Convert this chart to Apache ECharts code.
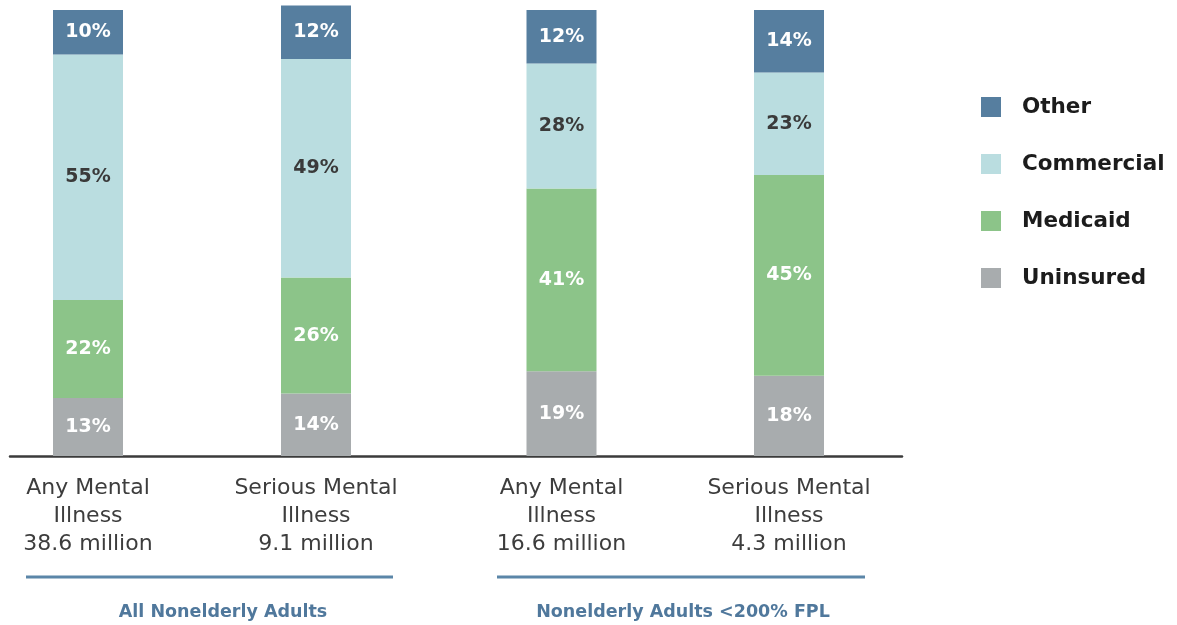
<!DOCTYPE html>
<html>
<head>
<meta charset="utf-8">
<script src="https://cdn.jsdelivr.net/npm/echarts@6/dist/echarts.min.js"></script>
<style>
  html, body { margin: 0; padding: 0; background: #ffffff; }
  #chart { width: 1177px; height: 625px; }
</style>
</head>
<body>
<div id="chart"></div>
<script>
// Coverage mix (%) for nonelderly adults with mental illness
const groupAllCategories = ['Any Mental\nIllness\n38.6 million', 'Serious Mental\nIllness\n9.1 million'];
const groupLowCategories = ['Any Mental\nIllness\n16.6 million', 'Serious Mental\nIllness\n4.3 million'];

const uninsuredAll = [13, 14];
const medicaidAll = [22, 26];
const commercialAll = [55, 49];
const otherAll = [10, 12];

const uninsuredLow = [19, 18];
const medicaidLow = [41, 45];
const commercialLow = [28, 23];
const otherLow = [12, 14];

const groupLabels = ['All Nonelderly Adults', 'Nonelderly Adults <200% FPL'];
const legendNames = ['Other', 'Commercial', 'Medicaid', 'Uninsured'];

const COLORS = {
  Other: '#567e9f',
  Commercial: '#badde0',
  Medicaid: '#8cc489',
  Uninsured: '#a8acae'
};
const LABEL_COLORS = {
  Other: '#ffffff',
  Commercial: '#3a3a3a',
  Medicaid: '#ffffff',
  Uninsured: '#ffffff'
};
const FONT = 'DejaVu Sans';

const chart = echarts.init(document.getElementById('chart'), null, { renderer: 'canvas' });

function seg(name, data, gridIdx) {
  return {
    name: name,
    type: 'bar',
    stack: 'g' + gridIdx,
    xAxisIndex: gridIdx,
    yAxisIndex: gridIdx,
    barWidth: 70,
    data: data,
    itemStyle: { color: COLORS[name] },
    label: {
      show: true,
      position: 'inside',
      formatter: '{c}%',
      color: LABEL_COLORS[name],
      fontFamily: FONT,
      fontWeight: 'bold',
      fontSize: 19
    },
    emphasis: { disabled: true },
    animation: false
  };
}

const gridTop = 5.5;
const gridBottom = 169;

const catAxis = (idx, cats) => ({
  type: 'category',
  gridIndex: idx,
  data: cats,
  axisLine: { show: false },
  axisTick: { show: false },
  axisLabel: {
    color: '#3d3d3d',
    fontFamily: FONT,
    fontSize: 22,
    lineHeight: 28,
    margin: 18,
    interval: 0
  }
});
const valAxis = (idx) => ({
  type: 'value',
  gridIndex: idx,
  min: 0,
  max: 101,
  show: false
});

const option = {
  backgroundColor: '#ffffff',
  animation: false,
  grid: [
    { left: -26, width: 456, top: gridTop, bottom: gridBottom, outerBoundsMode: 'none', containLabel: false },
    { left: 447.75, width: 455, top: gridTop, bottom: gridBottom, outerBoundsMode: 'none', containLabel: false },
    // baseline spanning both groups
    { left: 10, width: 892, top: gridTop, bottom: gridBottom, outerBoundsMode: 'none', containLabel: false }
  ],
  xAxis: [
    catAxis(0, groupAllCategories),
    catAxis(1, groupLowCategories),
    {
      type: 'value', gridIndex: 2, min: 0, max: 1,
      axisLine: { show: true, onZero: false, lineStyle: { color: '#3b3b3b', width: 2.5 } },
      axisTick: { show: false }, axisLabel: { show: false }, splitLine: { show: false }
    }
  ],
  yAxis: [valAxis(0), valAxis(1), { type: 'value', gridIndex: 2, min: 0, max: 1, show: false }],
  legend: {
    data: legendNames,
    orient: 'vertical',
    left: 976,
    top: 91,
    itemWidth: 20,
    itemHeight: 20,
    itemGap: 35,
    icon: 'rect',
    selectedMode: false,
    textStyle: {
      fontFamily: FONT,
      fontWeight: 'bold',
      fontSize: 21.5,
      lineHeight: 20,
      color: '#1c1c1c',
      padding: [0, 0, 0, 16]
    }
  },
  graphic: [
    { type: 'line', shape: { x1: 26, y1: 577, x2: 393, y2: 577 }, style: { stroke: '#5b86a8', lineWidth: 3 } },
    { type: 'line', shape: { x1: 497, y1: 577, x2: 865, y2: 577 }, style: { stroke: '#5b86a8', lineWidth: 3 } },
    {
      type: 'text', x: 223, y: 612,
      style: { text: groupLabels[0], fill: '#50789c', font: 'bold 17.5px "DejaVu Sans"', textAlign: 'center', textVerticalAlign: 'middle' }
    },
    {
      type: 'text', x: 683, y: 612,
      style: { text: groupLabels[1], fill: '#50789c', font: 'bold 17.5px "DejaVu Sans"', textAlign: 'center', textVerticalAlign: 'middle' }
    }
  ],
  series: [
    seg('Uninsured', uninsuredAll, 0),
    seg('Medicaid', medicaidAll, 0),
    seg('Commercial', commercialAll, 0),
    seg('Other', otherAll, 0),
    seg('Uninsured', uninsuredLow, 1),
    seg('Medicaid', medicaidLow, 1),
    seg('Commercial', commercialLow, 1),
    seg('Other', otherLow, 1)
  ]
};

chart.setOption(option);
</script>
</body>
</html>
